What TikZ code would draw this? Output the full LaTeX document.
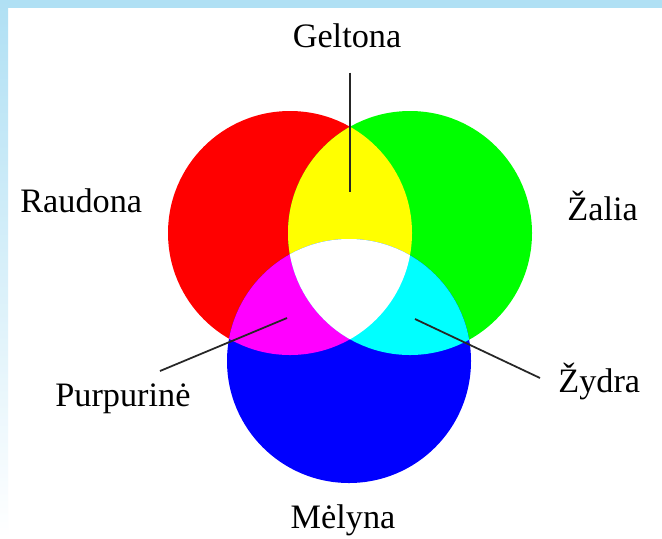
\documentclass[tikz,border=0pt]{standalone}
\usepackage{fontspec}
\setmainfont{Liberation Serif}
\definecolor{frameblue}{RGB}{176,224,244}
\definecolor{pured}{RGB}{255,0,0}
\definecolor{pugreen}{RGB}{0,255,0}
\definecolor{publue}{RGB}{0,0,255}
\definecolor{puyellow}{RGB}{255,255,0}
\definecolor{pumagenta}{RGB}{255,0,255}
\definecolor{pucyan}{RGB}{0,255,255}
\begin{document}
\begin{tikzpicture}[x=0.02cm, y=-0.02cm,
	lbl/.style={font=\fontsize{19.5}{23}\selectfont, inner sep=0pt, anchor=base},
	lead/.style={line width=1pt, black!85}]
	% Page and frame:
	\useasboundingbox (0, 0) rectangle (662, 538);
	\fill[white] (0, 0) rectangle (662, 538);
	\fill[frameblue] (0, 0) rectangle (662, 8);
	\shade[top color=frameblue, bottom color=white] (0, 0) rectangle (8, 538);
	% Circles:
	\def\rad{122}
	\coordinate (R) at (290, 233);
	\coordinate (G) at (410, 233);
	\coordinate (B) at (349, 361);
	\fill[pured] (R) circle (\rad);
	\fill[pugreen] (G) circle (\rad);
	\fill[publue] (B) circle (\rad);
	\begin{scope}
		\clip (R) circle (\rad);
		\fill[puyellow] (G) circle (\rad);
		\fill[pumagenta] (B) circle (\rad);
	\end{scope}
	\begin{scope}
		\clip (G) circle (\rad);
		\fill[pucyan] (B) circle (\rad);
	\end{scope}
	\begin{scope}
		\clip (R) circle (\rad);
		\clip (G) circle (\rad);
		\fill[white] (B) circle (\rad);
	\end{scope}
	% Labels:
	\node[lbl] (geltona) at (347, 47){Geltona};
	\node[lbl, anchor=base west] (raudona) at (20, 212){Raudona};
	\node[lbl, anchor=base west] (zalia) at (567, 220){Žalia};
	\node[lbl, anchor=base west] (purpurine) at (55, 406){Purpurinė};
	\node[lbl, anchor=base west] (zydra) at (558, 392){Žydra};
	\node[lbl] (melyna) at (343, 528){Mėlyna};
	% Leader lines:
	\coordinate (yellowpt) at (350, 192);
	\coordinate (magpt) at (287, 318);
	\coordinate (magtip) at (160, 371);
	\coordinate (cyanpt) at (415, 319);
	\coordinate (cyantip) at (540, 378);
	\draw[lead, shorten <=0.5cm] (geltona.south -| yellowpt) -- (yellowpt);
	\draw[lead] (magpt) -- (magtip);
	\draw[lead] (cyanpt) -- (cyantip);
\end{tikzpicture}
\end{document}
